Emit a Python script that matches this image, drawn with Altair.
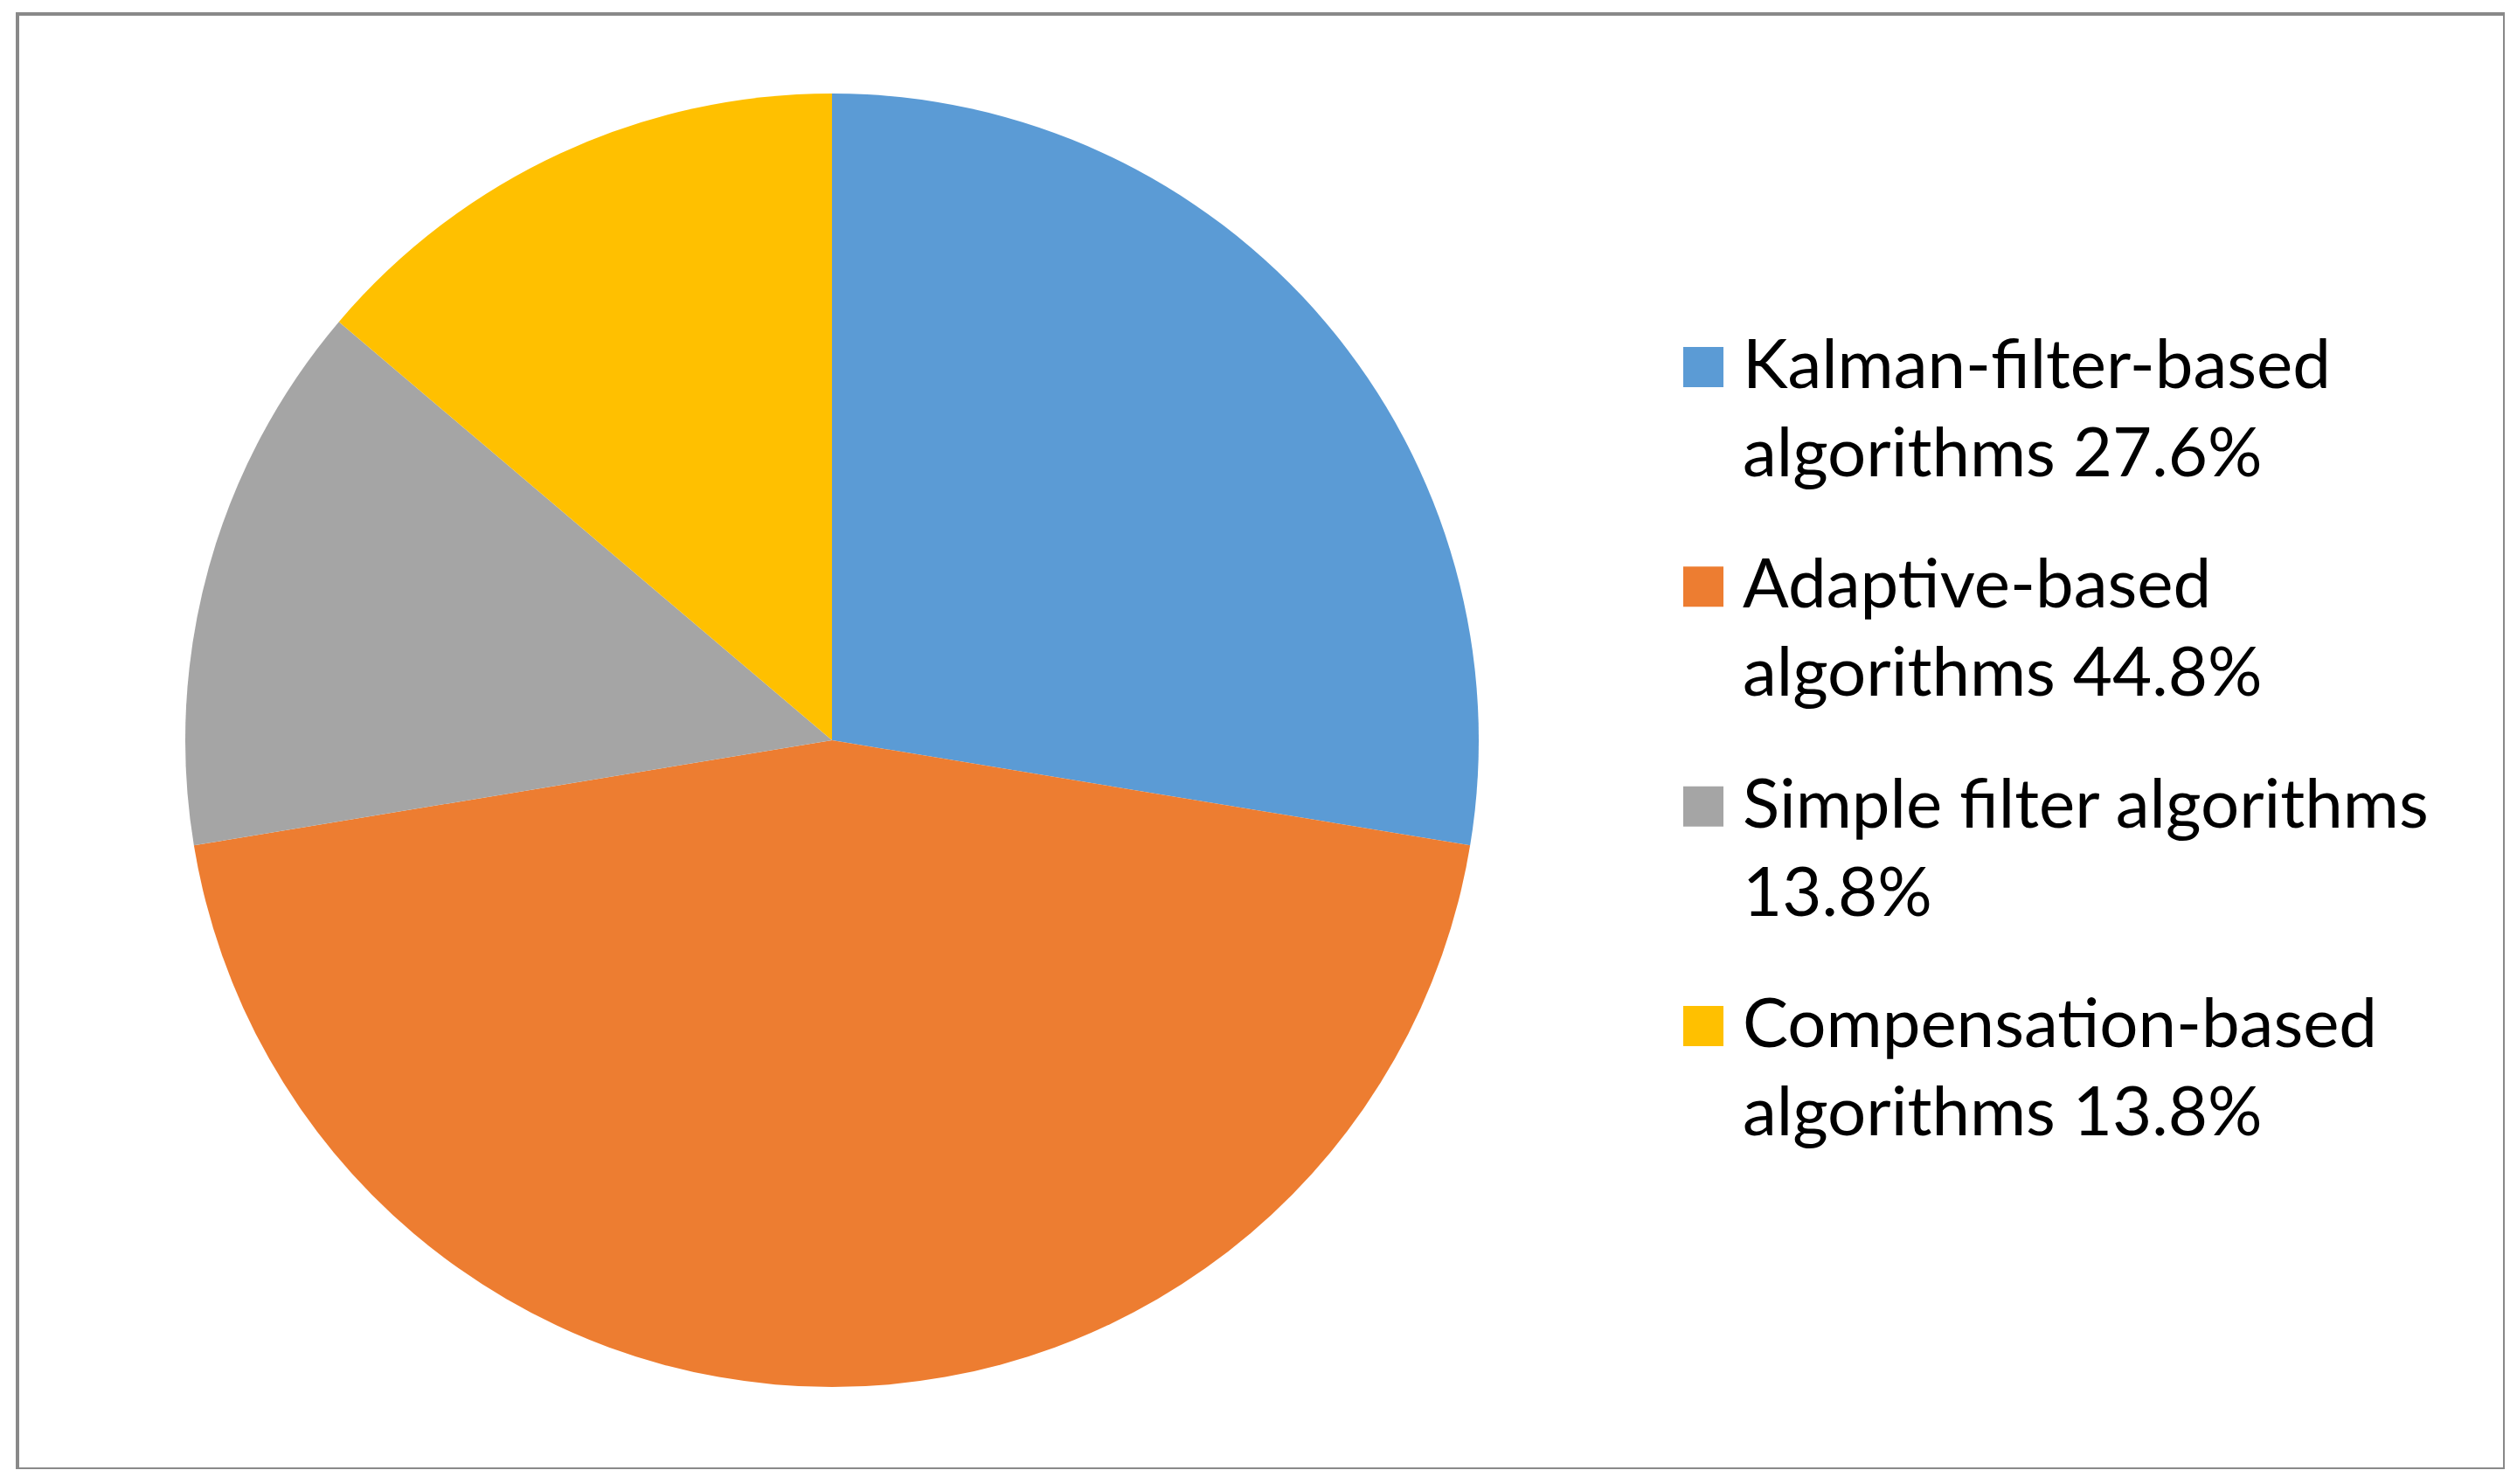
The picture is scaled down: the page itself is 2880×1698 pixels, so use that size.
import altair as alt
import pandas as pd

categories = ["Kalman-filter-based algorithms", "Adaptive-based algorithms",
              "Simple filter algorithms", "Compensation-based algorithms"]
shares = [27.6, 44.8, 13.8, 13.8]
legend_lines = [
    ["Kalman-filter-based", "algorithms 27.6%"],
    ["Adaptive-based", "algorithms 44.8%"],
    ["Simple filter algorithms", "13.8%"],
    ["Compensation-based", "algorithms 13.8%"],
]
colors = ["#5B9BD5", "#ED7D31", "#A5A5A5", "#FFC000"]

df = pd.DataFrame({
    "category": categories,
    "share": shares,
    "idx": list(range(len(categories))),
    "label": ["\n".join(l) for l in legend_lines],
})

W, H = 2846, 1665
color = alt.Color("category:N", scale=alt.Scale(domain=categories, range=colors), legend=None)

base = alt.Chart(df)

pie = base.mark_arc(radius=740).encode(
    theta=alt.Theta("share:Q", stack=True),
    order=alt.Order("idx:Q"),
    color=color,
    x=alt.value(932),
    y=alt.value(831),
)

ypos = alt.Y("idx:Q", scale=alt.Scale(domain=[0, 3], range=[404, 1158]), axis=None)

squares = base.mark_square(size=46 * 46, opacity=1).encode(
    x=alt.value(1929),
    y=ypos,
    color=color,
)

texts = base.mark_text(
    align="left", baseline="alphabetic", dy=24, lineBreak="\n", lineHeight=101,
    font="Lato", fontSize=78, color="black",
).encode(
    x=alt.value(1974),
    y=ypos,
    text="label:N",
)

chart = alt.layer(pie, squares, texts).properties(
    width=W, height=H,
    autosize=alt.AutoSizeParams(type="none"),
    padding={"left": 12, "top": 8, "right": 0, "bottom": 0},
    background="white",
).configure_view(stroke="#898989", strokeWidth=4)

chart.save("out.html", embed_options={"renderer": "svg", "actions": False})
